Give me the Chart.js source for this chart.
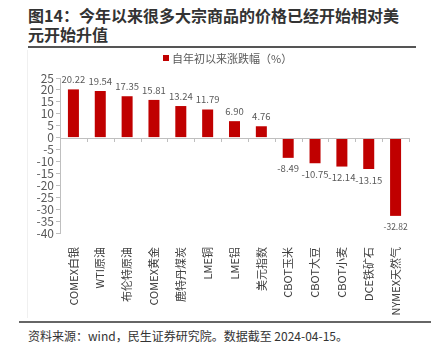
<!DOCTYPE html>
<html><head><meta charset="utf-8">
<script src="https://cdn.jsdelivr.net/npm/chart.js@4.4.1/dist/chart.umd.min.js"></script>
<style>
html,body{margin:0;padding:0;background:#fff;}
#wrap{position:relative;width:431px;height:356px;overflow:hidden;font-family:"Noto Sans CJK SC","Noto Sans",sans-serif;}
#title{position:absolute;left:28px;top:6px;width:386px;font-size:16px;line-height:19px;font-weight:bold;color:#333;}
#sep{position:absolute;left:28px;top:46px;width:388px;height:2px;background:#555;}
#foot{position:absolute;left:28px;top:327px;font-size:12px;color:#333;white-space:nowrap;}
#footline{position:absolute;left:19px;top:321px;width:412px;height:2px;background:#666;}
#cv{position:absolute;left:0;top:0;}
</style></head>
<body><div id="wrap">
<div id="title">图14：今年以来很多大宗商品的价格已经开始相对美元开始升值</div>
<div id="sep"></div>
<canvas id="cv" width="431" height="318"></canvas>
<div id="footline"></div>
<div id="foot">资料来源：wind，民生证券研究院。数据截至 2024-04-15。</div>
</div>
<script>
const categories = ["COMEX白银","WTI原油","布伦特原油","COMEX黄金","鹿特丹煤炭","LME铜","LME铝","美元指数","CBOT玉米","CBOT大豆","CBOT小麦","DCE铁矿石","NYMEX天然气"];
const values = [20.22,19.54,17.35,15.81,13.24,11.79,6.90,4.76,-8.49,-10.75,-12.14,-13.15,-32.82];
const valueLabels = ["20.22","19.54","17.35","15.81","13.24","11.79","6.90","4.76","-8.49","-10.75","-12.14","-13.15","-32.82"];
const seriesName = "自年初以来涨跌幅（%）";
const yMin = -40, yMax = 25, yStep = 5;

const FONT = '"Noto Sans CJK SC","Noto Sans",sans-serif';

const extras = {
  id:'extras',
  afterDatasetsDraw(chart){
    const ctx = chart.ctx, x = chart.scales.x, y = chart.scales.y;
    const y0 = y.getPixelForValue(0);
    ctx.save();
    ctx.strokeStyle = '#bfbfbf'; ctx.lineWidth = 1;
    ctx.beginPath(); ctx.moveTo(chart.chartArea.left, Math.round(y0)+0.5); ctx.lineTo(chart.chartArea.right, Math.round(y0)+0.5); ctx.stroke();
    const n = categories.length;
    const w = (chart.chartArea.right - chart.chartArea.left)/n;
    for(let i=1;i<=n;i++){
      const xx = Math.round(chart.chartArea.left + i*w)+0.5;
      ctx.beginPath(); ctx.moveTo(xx, Math.round(y0)); ctx.lineTo(xx, Math.round(y0)+4); ctx.stroke();
    }
    const meta = chart.getDatasetMeta(0);
    ctx.fillStyle = '#595959'; ctx.textAlign='center'; ctx.textBaseline='middle';
    meta.data.forEach((bar,i)=>{
      const v = values[i];
      const small = Math.abs(v) > 30;
      ctx.font = (small? '8.5px ':'9.5px ') + FONT;
      const yy = v>=0 ? bar.y - 10 : bar.y + 11;
      ctx.fillText(valueLabels[i], bar.x, yy);
    });
    ctx.fillStyle = '#c00000';
    ctx.fillRect(163, 55, 6, 6);
    ctx.fillStyle = '#595959'; ctx.textAlign='left'; ctx.font='11px '+FONT;
    ctx.fillText(seriesName, 172, 58.5);
    ctx.strokeStyle='#f0f0f0';
    ctx.beginPath(); ctx.moveTo(27.5,50); ctx.lineTo(27.5,320); ctx.stroke();
    ctx.restore();
  }
};

new Chart(document.getElementById('cv'), {
  type:'bar',
  data:{labels:categories, datasets:[{label:seriesName, data:values, backgroundColor:'#c00000', borderWidth:0, barPercentage:0.82, categoryPercentage:0.5}]},
  options:{
    responsive:false, animation:false,
    layout:{padding:{top:78, right:22, left:0, bottom:0}},
    plugins:{legend:{display:false}, tooltip:{enabled:false}},
    scales:{
      x:{
        grid:{display:false},
        border:{display:false},
        ticks:{autoSkip:false, maxRotation:90, minRotation:90, padding:6, color:'#404040', font:{family:FONT, size:11}},
        afterFit(s){ s.height = 318-233; }
      },
      y:{
        min:yMin, max:yMax,
        grid:{drawOnChartArea:false, drawTicks:true, tickLength:4, color:'#bfbfbf'},
        border:{display:true, color:'#bfbfbf'},
        ticks:{stepSize:yStep, autoSkip:false, padding:2, color:'#595959', font:{family:FONT, size:12}},
        afterFit(s){ s.width = 60; }
      }
    }
  },
  plugins:[extras]
});
</script>
</body></html>
